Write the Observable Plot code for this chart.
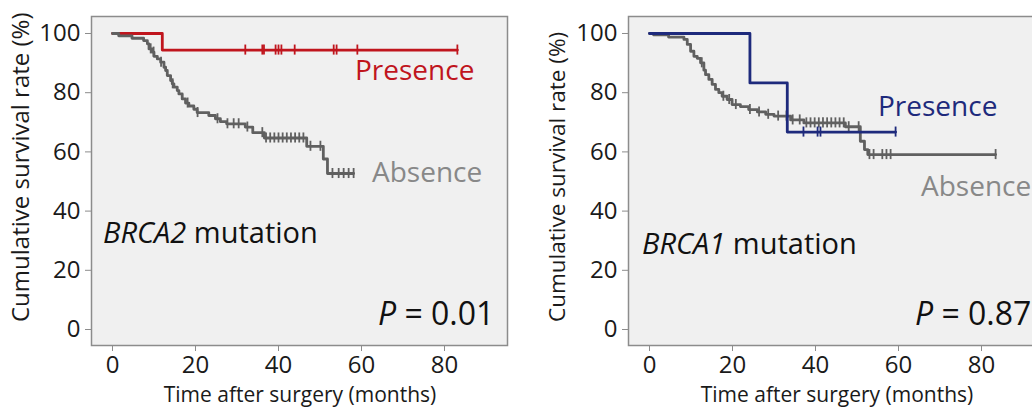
<!DOCTYPE html>
<html>
<head>
<meta charset="utf-8">
<script src="https://cdn.jsdelivr.net/npm/d3@7"></script>
<script src="https://cdn.jsdelivr.net/npm/@observablehq/plot@0.6"></script>
<style>
  html, body { margin: 0; padding: 0; background: #fff; overflow: hidden; }
  #wrap { position: relative; width: 1032px; height: 407px; overflow: hidden; }
  #wrap svg { position: absolute; top: 0; }
</style>
</head>
<body>
<div id="wrap"></div>
<script>
// ---------- data (months, survival %) ----------
const xTicks = [0, 20, 40, 60, 80];
const yTicks = [0, 20, 40, 60, 80, 100];

// BRCA2 panel
const brca2PresTime = [0, 12, 83.1];
const brca2PresSurv = [100, 94.4, 94.4];
const brca2PresCens = [32, 36.1, 36.5, 39.3, 40, 40.7, 43.9, 53.3, 54, 59, 83.1];

const brca2AbsTime = [0, 1.5, 4.7, 7.5, 8.4, 8.8, 9.6, 10.0, 10.8, 11.6, 12.4, 12.8, 13.2, 14.0, 14.4, 14.8, 15.6, 16.0, 16.8, 17.6, 18.4, 19.6, 20.4, 23.2, 24.8, 26.0, 27.5, 32.0, 33.8, 36.6, 46.8, 50.8, 51.8, 58.1];
const brca2AbsSurv = [100, 99.2, 98.4, 97.6, 96.5, 94.8, 93.7, 92.3, 91.4, 90.3, 88.6, 87.5, 85.8, 84.1, 83.0, 81.9, 80.7, 79.6, 77.9, 76.5, 75.5, 74.4, 73.3, 72.3, 71.2, 70.2, 69.5, 68.4, 66.5, 64.7, 61.9, 57.6, 52.7, 52.7];
const brca2AbsCens = [9.2, 9.9, 11.7, 14.5, 18.1, 20.5, 25.3, 27.7, 29.2, 30.4, 32.5, 36.1, 37, 38, 39, 40, 41, 42, 43, 44, 45, 46, 47.7, 50.1, 53, 54.5, 55.7, 56.9, 58.1];

// BRCA1 panel
const brca1PresTime = [0, 24.2, 33.2, 59.3];
const brca1PresSurv = [100, 83.3, 66.7, 66.7];
const brca1PresCens = [37.1, 40.5, 41.2, 59.3];

const brca1AbsTime = [0, 1.0, 4.6, 8.3, 9.1, 9.9, 10.7, 11.5, 12.3, 13.1, 13.5, 14.3, 15.1, 15.9, 16.7, 17.5, 18.7, 19.9, 21.9, 23.9, 26.0, 28.0, 30.0, 34.0, 37.2, 47.2, 50.8, 51.8, 52.6, 83.4];
const brca1AbsSurv = [100, 99.5, 98.8, 98.0, 96.3, 94.0, 92.3, 91.6, 90.1, 87.6, 86.1, 84.5, 82.8, 81.1, 80.0, 78.8, 77.7, 76.0, 75.3, 74.3, 73.5, 72.7, 72.1, 70.8, 69.8, 68.5, 63.6, 60.8, 59.1, 59.1];
const brca1AbsCens = [12.6, 17.8, 19.2, 20.8, 24.2, 26.4, 28.6, 31, 33, 34.5, 36.2, 37.8, 38.8, 39.8, 40.8, 41.8, 42.8, 43.8, 44.8, 45.8, 46.8, 48, 50.4, 53, 54, 56.1, 57.1, 58.1, 83.4];

// ---------- helpers ----------
const toRows = (ts, ss) => ts.map((t, i) => ({t, s: ss[i]}));
const survAt = (ts, ss, t) => { let v = ss[0]; for (let i = 0; i < ts.length; i++) if (ts[i] <= t) v = ss[i]; return v; };
const censRows = (ts, ss, cs) => cs.map(t => ({t, s: survAt(ts, ss, t)}));

const FONT = "'Open Sans', 'Noto Sans', sans-serif";
const GRAY = "#606060";

function panel(groups, ann) {
  const marks = [Plot.frame({fill: "#f0f0f0", stroke: "#8c8c8c", strokeWidth: 1.5})];
  for (const g of groups) {
    marks.push(Plot.line(toRows(g.time, g.surv), {x: "t", y: "s", curve: "step-after", stroke: g.color, strokeWidth: 2.8}));
    marks.push(Plot.ruleX(censRows(g.time, g.surv, g.cens), {x: "t", y1: d => d.s - 1.7, y2: d => d.s + 1.7, stroke: g.color, strokeWidth: 1.8}));
  }
  marks.push(Plot.axisX({ticks: xTicks, tickSize: 6, tickPadding: 4, stroke: "#8c8c8c", fill: "#1a1a1a", label: null, tickFormat: d => d}));
  marks.push(Plot.axisY({ticks: yTicks, tickSize: 6, tickPadding: 5, stroke: "#8c8c8c", fill: "#1a1a1a", label: null, tickFormat: d => d}));
  const svg = Plot.plot({
    width: 537, height: 407,
    marginLeft: 91, marginRight: 30, marginTop: 16, marginBottom: 62,
    style: {fontFamily: FONT, fontSize: "24px", background: "transparent", color: "#1a1a1a", overflow: "visible"},
    x: {domain: [-5.06, 95.18]},
    y: {domain: [-5.4, 105.74]},
    marks
  });
  const s = d3.select(svg);
  const txt = (x, y, size, fill) => s.append("text").attr("x", x).attr("y", y)
    .attr("text-anchor", "start").attr("font-family", FONT).attr("font-size", size).attr("fill", fill);
  // axis labels
  s.append("text").attr("transform", `translate(${ann.ylabX},322) rotate(-90)`).attr("text-anchor", "start")
    .attr("font-family", FONT).attr("font-size", ann.ylabSize).attr("fill", "#1a1a1a")
    .text("Cumulative survival rate (%)");
  s.append("text").attr("x", 300).attr("y", 402).attr("text-anchor", "middle")
    .attr("font-family", FONT).attr("font-size", 21).attr("fill", "#1a1a1a")
    .text("Time after surgery (months)");
  // annotations
  txt(ann.presX, ann.presY, 28, ann.presColor).text("Presence");
  txt(ann.absX, ann.absY, 28, "#888888").text("Absence");
  const g1 = txt(ann.geneX, ann.geneY, 29, "#111");
  g1.append("tspan").attr("font-style", "italic").text(ann.gene);
  g1.append("tspan").text(" mutation");
  const p = txt(378, 325, 32, "#111");
  p.append("tspan").attr("font-style", "italic").text("P");
  p.append("tspan").text(" = " + ann.p);
  return svg;
}

const wrap = document.getElementById("wrap");
const left = panel([
  {time: brca2PresTime, surv: brca2PresSurv, cens: brca2PresCens, color: "#c0151d"},
  {time: brca2AbsTime, surv: brca2AbsSurv, cens: brca2AbsCens, color: GRAY}
], {ylabX: 29, ylabSize: 24, presX: 355, presY: 80, presColor: "#c0151d", absX: 372, absY: 182, geneX: 103, geneY: 243, gene: "BRCA2", p: "0.01"});
left.style.left = "0px";
wrap.appendChild(left);

const right = panel([
  {time: brca1AbsTime, surv: brca1AbsSurv, cens: brca1AbsCens, color: GRAY},
  {time: brca1PresTime, surv: brca1PresSurv, cens: brca1PresCens, color: "#1e2a7c"}
], {ylabX: 28, ylabSize: 22.5, presX: 341, presY: 116, presColor: "#1e2a7c", absX: 384, absY: 196, geneX: 105, geneY: 254, gene: "BRCA1", p: "0.87"});
right.style.left = "537px";
wrap.appendChild(right);
</script>
</body>
</html>
